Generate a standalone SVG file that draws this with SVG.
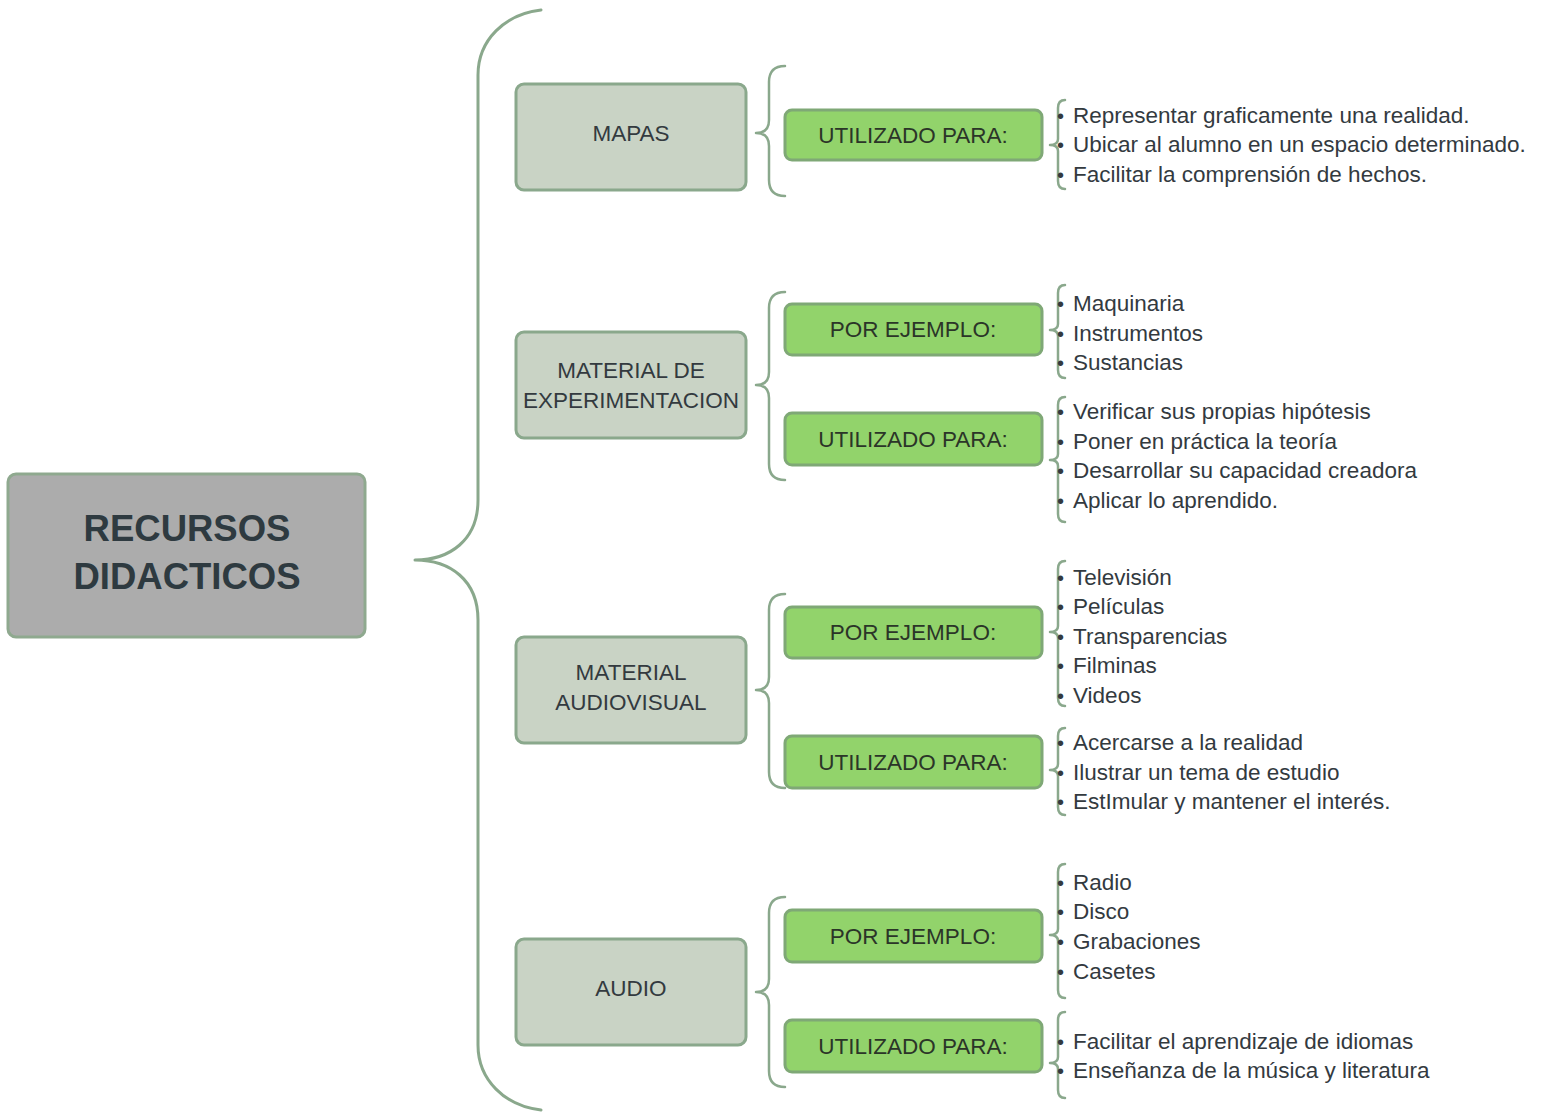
<svg xmlns="http://www.w3.org/2000/svg" width="1546" height="1114" viewBox="0 0 1546 1114">
<style>
.brace{fill:none;stroke:#8aa88c;stroke-width:3;stroke-linecap:round;stroke-linejoin:round}
.brace2{fill:none;stroke:#8aa88c;stroke-width:2.5;stroke-linecap:round;stroke-linejoin:round}
.main{fill:#acacac;stroke:#8fa98f;stroke-width:3}
.cat{fill:#c9d3c5;stroke:#8aa88c;stroke-width:3}
.grn{fill:#92d36b;stroke:#7fa876;stroke-width:3}
.t{font-family:"Liberation Sans",Arial,sans-serif;fill:#333a3f;text-anchor:middle}
.mt{font-size:36.5px;font-weight:bold;fill:#2e3a40}
.ct{font-size:22.5px}
.gt{font-size:22.5px;fill:#2b3528}
.li{font-family:"Liberation Sans",Arial,sans-serif;font-size:22.5px;fill:#333a3f}
.b{font-family:"Liberation Sans",Arial,sans-serif;font-size:20px;fill:#333a3f}
</style>
<rect width="1546" height="1114" fill="#ffffff"/>
<g id="connectors">
<path class="brace" d="M541,10 C505,14 478,40 478,75 L478,500 C478,540 450,560 415,560 C450,560 478,580 478,620 L478,1045 C478,1080 505,1106 541,1110"/>
<path class="brace2" d="M785,66 Q769,66 769,82 L769,120 Q769,133 756,133 Q769,133 769,146 L769,180 Q769,196 785,196"/>
<path class="brace2" d="M785,292 Q769,292 769,308 L769,372 Q769,385 756,385 Q769,385 769,398 L769,464 Q769,480 785,480"/>
<path class="brace2" d="M785,594 Q769,594 769,610 L769,677 Q769,690 756,690 Q769,690 769,703 L769,772 Q769,788 785,788"/>
<path class="brace2" d="M785,897 Q769,897 769,913 L769,979 Q769,992 756,992 Q769,992 769,1005 L769,1071 Q769,1087 785,1087"/>
<path class="brace2" d="M1065,100 Q1058,100 1058,108 L1058,139 Q1058,145 1050,145 Q1058,145 1058,151 L1058,181 Q1058,189 1065,189"/>
<path class="brace2" d="M1065,285 Q1058,285 1058,293 L1058,324 Q1058,330 1050,330 Q1058,330 1058,336 L1058,370 Q1058,378 1065,378"/>
<path class="brace2" d="M1065,397 Q1058,397 1058,405 L1058,454 Q1058,460 1050,460 Q1058,460 1058,466 L1058,514 Q1058,522 1065,522"/>
<path class="brace2" d="M1065,561 Q1058,561 1058,569 L1058,626 Q1058,632 1050,632 Q1058,632 1058,638 L1058,698 Q1058,706 1065,706"/>
<path class="brace2" d="M1065,728 Q1058,728 1058,736 L1058,764 Q1058,770 1050,770 Q1058,770 1058,776 L1058,807 Q1058,815 1065,815"/>
<path class="brace2" d="M1065,864 Q1058,864 1058,872 L1058,929 Q1058,935 1050,935 Q1058,935 1058,941 L1058,990 Q1058,998 1065,998"/>
<path class="brace2" d="M1065,1012 Q1058,1012 1058,1020 L1058,1057 Q1058,1063 1050,1063 Q1058,1063 1058,1069 L1058,1090 Q1058,1098 1065,1098"/>
</g>
<g id="n-main">
<rect class="main" x="8" y="474" width="357" height="163" rx="8"/>
<text class="t mt" x="187" y="541">RECURSOS</text>
<text class="t mt" x="187" y="589">DIDACTICOS</text>
</g>
<g id="n-mapas">
<rect class="cat" x="516" y="84" width="230" height="106" rx="8"/>
<text class="t ct" x="631" y="141">MAPAS</text>
</g>
<g id="n-exp">
<rect class="cat" x="516" y="332" width="230" height="106" rx="8"/>
<text class="t ct" x="631" y="378">MATERIAL DE</text>
<text class="t ct" x="631" y="408">EXPERIMENTACION</text>
</g>
<g id="n-av">
<rect class="cat" x="516" y="637" width="230" height="106" rx="8"/>
<text class="t ct" x="631" y="680">MATERIAL</text>
<text class="t ct" x="631" y="710">AUDIOVISUAL</text>
</g>
<g id="n-audio">
<rect class="cat" x="516" y="939" width="230" height="106" rx="8"/>
<text class="t ct" x="631" y="996">AUDIO</text>
</g>
<g id="n-mapas-up">
<rect class="grn" x="785" y="110" width="257" height="50" rx="7"/>
<text class="t gt" x="913" y="143">UTILIZADO PARA:</text>
</g>
<g id="n-exp-pe">
<rect class="grn" x="785" y="304" width="257" height="51" rx="7"/>
<text class="t gt" x="913" y="337">POR EJEMPLO:</text>
</g>
<g id="n-exp-up">
<rect class="grn" x="785" y="413" width="257" height="52" rx="7"/>
<text class="t gt" x="913" y="447">UTILIZADO PARA:</text>
</g>
<g id="n-av-pe">
<rect class="grn" x="785" y="607" width="257" height="51" rx="7"/>
<text class="t gt" x="913" y="640">POR EJEMPLO:</text>
</g>
<g id="n-av-up">
<rect class="grn" x="785" y="736" width="257" height="52" rx="7"/>
<text class="t gt" x="913" y="770">UTILIZADO PARA:</text>
</g>
<g id="n-audio-pe">
<rect class="grn" x="785" y="910" width="257" height="52" rx="7"/>
<text class="t gt" x="913" y="944">POR EJEMPLO:</text>
</g>
<g id="n-audio-up">
<rect class="grn" x="785" y="1020" width="257" height="52" rx="7"/>
<text class="t gt" x="913" y="1054">UTILIZADO PARA:</text>
</g>
<g id="bullets" class="b">
<text x="1057" y="123">•</text><text x="1057" y="152">•</text><text x="1057" y="182">•</text>
<text x="1057" y="311">•</text><text x="1057" y="341">•</text><text x="1057" y="370">•</text>
<text x="1057" y="419">•</text><text x="1057" y="449">•</text><text x="1057" y="478">•</text><text x="1057" y="508">•</text>
<text x="1057" y="585">•</text><text x="1057" y="614">•</text><text x="1057" y="644">•</text><text x="1057" y="673">•</text><text x="1057" y="703">•</text>
<text x="1057" y="750">•</text><text x="1057" y="780">•</text><text x="1057" y="809">•</text>
<text x="1057" y="890">•</text><text x="1057" y="919">•</text><text x="1057" y="949">•</text><text x="1057" y="979">•</text>
<text x="1057" y="1049">•</text><text x="1057" y="1078">•</text>
</g>
<g id="l-mapas">
<text class="li" x="1073" y="123">Representar graficamente una realidad.</text>
<text class="li" x="1073" y="152">Ubicar al alumno en un espacio determinado.</text>
<text class="li" x="1073" y="182">Facilitar la comprensión de hechos.</text>
</g>
<g id="l-exp-pe">
<text class="li" x="1073" y="311">Maquinaria</text>
<text class="li" x="1073" y="341">Instrumentos</text>
<text class="li" x="1073" y="370">Sustancias</text>
</g>
<g id="l-exp-up">
<text class="li" x="1073" y="419">Verificar sus propias hipótesis</text>
<text class="li" x="1073" y="449">Poner en práctica la teoría</text>
<text class="li" x="1073" y="478">Desarrollar su capacidad creadora</text>
<text class="li" x="1073" y="508">Aplicar lo aprendido.</text>
</g>
<g id="l-av-pe">
<text class="li" x="1073" y="585">Televisión</text>
<text class="li" x="1073" y="614">Películas</text>
<text class="li" x="1073" y="644">Transparencias</text>
<text class="li" x="1073" y="673">Filminas</text>
<text class="li" x="1073" y="703">Videos</text>
</g>
<g id="l-av-up">
<text class="li" x="1073" y="750">Acercarse a la realidad</text>
<text class="li" x="1073" y="780">Ilustrar un tema de estudio</text>
<text class="li" x="1073" y="809">EstImular y mantener el interés.</text>
</g>
<g id="l-audio-pe">
<text class="li" x="1073" y="890">Radio</text>
<text class="li" x="1073" y="919">Disco</text>
<text class="li" x="1073" y="949">Grabaciones</text>
<text class="li" x="1073" y="979">Casetes</text>
</g>
<g id="l-audio-up">
<text class="li" x="1073" y="1049">Facilitar el aprendizaje de idiomas</text>
<text class="li" x="1073" y="1078">Enseñanza de la música y literatura</text>
</g>
</svg>
